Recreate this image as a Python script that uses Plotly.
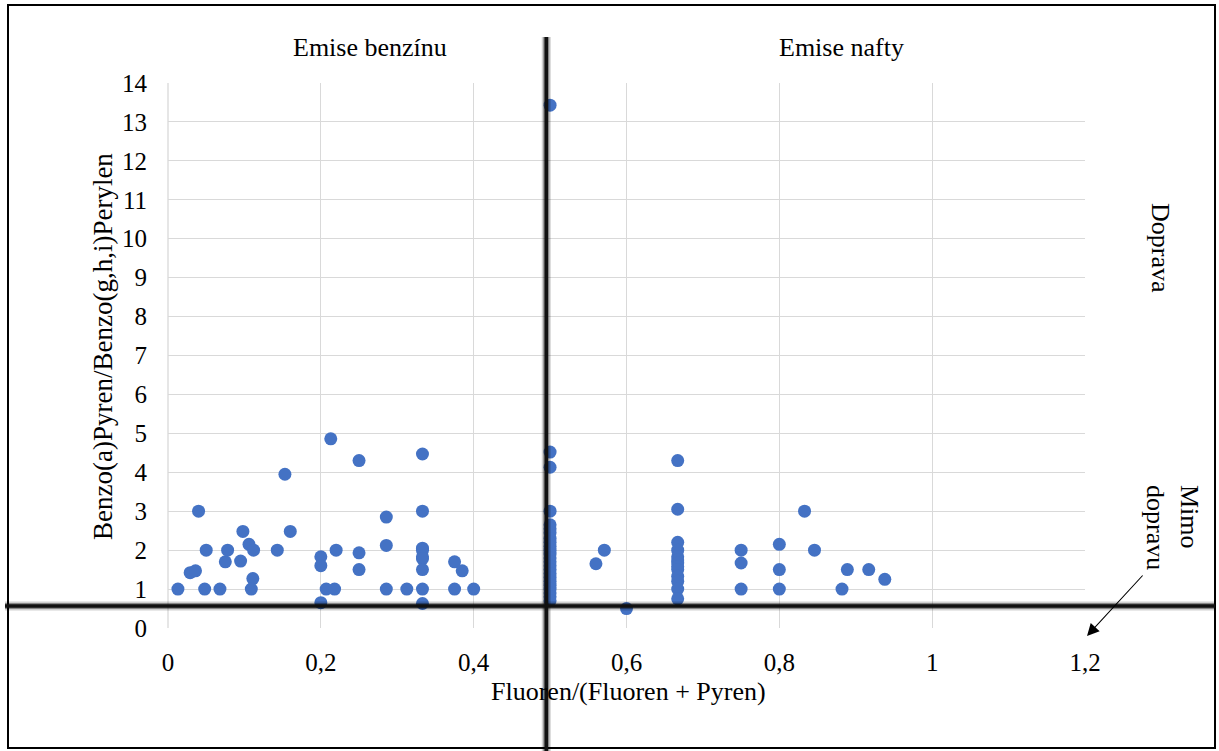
import plotly.graph_objects as go

# ---- data ----
x_benzin = [0.013, 0.029, 0.036, 0.040, 0.048, 0.050, 0.068, 0.075, 0.078, 0.095,
            0.098, 0.106, 0.111, 0.109, 0.112, 0.143, 0.153, 0.160, 0.200, 0.200,
            0.200, 0.207, 0.213, 0.218, 0.220, 0.250, 0.250, 0.250, 0.2857, 0.2857,
            0.2857, 0.3125, 0.333, 0.333, 0.333, 0.333, 0.333, 0.333, 0.333, 0.333,
            0.333, 0.375, 0.385, 0.375, 0.400]
y_benzin = [1.0, 1.42, 1.47, 3.0, 1.0, 2.0, 1.0, 1.7, 2.0, 1.72,
            2.48, 2.15, 1.27, 1.0, 2.0, 2.0, 3.95, 2.48, 1.83, 1.6,
            0.65, 1.0, 4.86, 1.0, 2.0, 4.3, 1.93, 1.5, 2.85, 2.12,
            1.0, 1.0, 4.47, 3.0, 2.05, 2.0, 1.83, 1.78, 1.5, 1.0,
            0.63, 1.7, 1.47, 1.0, 1.0]

x_half = [0.5] * 24
y_half = [13.43, 4.52, 4.13, 3.0, 2.65, 2.55, 2.45, 2.3, 2.2, 2.1, 2.0, 1.9,
          1.8, 1.7, 1.6, 1.5, 1.4, 1.3, 1.2, 1.1, 1.0, 0.9, 0.8, 0.7]

x_nafta = [0.56, 0.571, 0.60, 0.667, 0.667, 0.667, 0.667, 0.667, 0.667, 0.667,
           0.667, 0.667, 0.667, 0.667, 0.667, 0.667, 0.75, 0.75, 0.75, 0.80,
           0.80, 0.80, 0.833, 0.846, 0.882, 0.889, 0.917, 0.938]
y_nafta = [1.65, 2.0, 0.5, 4.3, 3.05, 2.2, 2.0, 1.83, 1.75, 1.67, 1.58, 1.5,
           1.33, 1.2, 1.0, 0.75, 2.0, 1.67, 1.0, 2.15, 1.5, 1.0, 3.0, 2.0,
           1.0, 1.5, 1.5, 1.25]

x_ticks = [0, 0.2, 0.4, 0.6, 0.8, 1.0, 1.2]
x_ticktext = ["0", "0,2", "0,4", "0,6", "0,8", "1", "1,2"]
y_ticks = list(range(0, 15))

split_x = 0.495      # vertical divider (benzín / nafta)
split_y = 0.565      # horizontal divider (doprava / mimo dopravu)

xs = x_benzin + x_half + x_nafta
ys = y_benzin + y_half + y_nafta

# ---- layout geometry ----
W, H = 1219, 751
L, R, T, B = 168, 1085, 83, 628


def px(x):
    return (x - L) / (R - L)


def py(y):
    return (B - y) / (B - T)


FONT = "Liberation Serif, Times New Roman, serif"
FS = 25
FA = 26

fig = go.Figure()
fig.add_trace(go.Scatter(
    x=xs, y=ys, mode="markers",
    marker=dict(size=13, color="#4472C4", line=dict(width=0)),
    showlegend=False, cliponaxis=False,
))

fig.update_layout(
    width=W, height=H,
    margin=dict(l=L, r=W - R, t=T, b=H - B),
    paper_bgcolor="white", plot_bgcolor="white",
    font=dict(family=FONT, size=FS, color="black"),
    separators=", ",
)
fig.update_xaxes(
    range=[0, 1.2], tickvals=x_ticks, ticktext=x_ticktext,
    showgrid=True, gridcolor="#d9d9d9", gridwidth=1.3,
    zeroline=False, showline=False, ticks="", ticklabelstandoff=17,
    tickfont=dict(family=FONT, size=FS),
)
fig.update_yaxes(
    range=[0, 14], tickvals=y_ticks,
    showgrid=True, gridcolor="#d9d9d9", gridwidth=1.3,
    zeroline=False, showline=False, ticks="", ticklabelstandoff=20,
    tickfont=dict(family=FONT, size=FS),
)

# plot-area left border line (light grey)
fig.add_shape(type="line", xref="paper", yref="paper", x0=0, x1=0, y0=0, y1=1,
              line=dict(color="#d9d9d9", width=1.3))

# outer frame
fig.add_shape(type="rect", xref="paper", yref="paper",
              x0=px(8), x1=px(1215), y0=py(748), y1=py(5),
              line=dict(color="black", width=2))

# dividers with soft shadow
for w, c in [(9, "rgba(0,0,0,0.18)"), (6, "rgba(0,0,0,0.35)"), (3.5, "#111111")]:
    fig.add_shape(type="line", xref="x", yref="paper",
                  x0=split_x, x1=split_x, y0=py(751), y1=py(37),
                  line=dict(color=c, width=w))
    fig.add_shape(type="line", xref="paper", yref="y",
                  x0=px(5), x1=px(1215), y0=split_y, y1=split_y,
                  line=dict(color=c, width=w))

ann = dict(xref="paper", yref="paper", showarrow=False,
           xanchor="center", yanchor="middle")
fig.add_annotation(text="Emise benzínu", x=px(370), y=py(48),
                   font=dict(family=FONT, size=FA), **ann)
fig.add_annotation(text="Emise nafty", x=px(841), y=py(48),
                   font=dict(family=FONT, size=FA), **ann)
fig.add_annotation(text="Doprava", x=px(1160), y=py(248), textangle=90,
                   font=dict(family=FONT, size=FA), **ann)
fig.add_annotation(text="Mimo<br>dopravu", x=px(1173), y=py(527), textangle=90,
                   align="left", font=dict(family=FONT, size=FA), **ann)
fig.add_annotation(text="Fluoren/(Fluoren + Pyren)", x=px(628), y=py(691),
                   font=dict(family=FONT, size=FA), **ann)
fig.add_annotation(text="Benzo(a)Pyren/Benzo(g,h,i)Perylen", x=px(103), y=py(347),
                   textangle=-90, font=dict(family=FONT, size=27), **ann)

# arrow pointing to the "Mimo dopravu" area
fig.add_annotation(x=px(1087), y=py(636), xref="paper", yref="paper",
                   ax=1144 - 1087, ay=574 - 636, axref="pixel", ayref="pixel",
                   showarrow=True, arrowhead=2, arrowsize=2.2, arrowwidth=1.1,
                   arrowcolor="black", text="")

fig.write_html("out.html",
               config={"displayModeBar": False},
               post_script="document.body.style.margin='0';")
